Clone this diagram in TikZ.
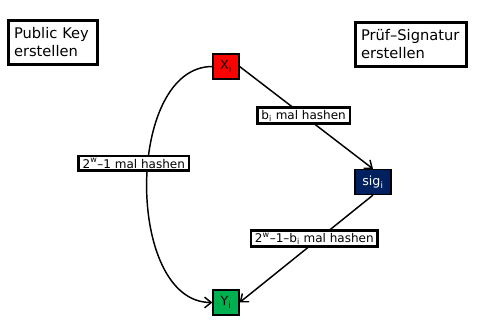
\documentclass[tikz,border=0pt]{standalone}
\usepackage{fontspec}
\setmainfont{DejaVu Sans}
\usetikzlibrary{arrows.meta}
\tikzset{>={Straight Barb[width=8pt,length=5pt]}}
\definecolor{keyred}{HTML}{FF0000}
\definecolor{signavy}{HTML}{002060}
\definecolor{pubgreen}{HTML}{00B050}
\tikzset{
  titlebox/.style={draw, line width=1.9pt, fill=white, align=left, anchor=north west,
    font=\fontsize{11}{13.5}\selectfont, inner xsep=4.3pt, minimum height=33pt},
  chainbox/.style={draw, line width=0.9pt, minimum width=19.5pt, minimum height=18.75pt,
    inner sep=1pt, font=\fontsize{9.5}{10}\selectfont},
  hashlabel/.style={draw, line width=1.9pt, fill=white, font=\fontsize{9}{10}\selectfont,
    inner xsep=3pt, inner ysep=1.8pt},
  chain/.style={->, line width=1.1pt}
}

\begin{document}
\begin{tikzpicture}[x=0.75pt,y=-0.75pt]
\useasboundingbox (0,0) rectangle (483,320);

%% headings
\node[titlebox, text width=58.5pt] (pubkey) at (7,19) {Public Key\\erstellen};
\node[titlebox, text width=75pt] (pruefsig) at (354,21) {Prüf–Signatur\\erstellen};

%% chain elements
\node[chainbox, fill=keyred] (xi) at (226,66.5) {X\textsubscript{i}};
\node[chainbox, fill=signavy, text=white, minimum width=27pt] (sig) at (373,182) {sig\textsubscript{i}};
\node[chainbox, fill=pubgreen] (yi) at (226,302.5) {Y\textsubscript{i}};

%% hash chains
\draw[chain] (xi.west) to[out=180, in=180, looseness=0.95]
  node[hashlabel, pos=0.44, xshift=-10.5pt] (fullhash) {2\textsuperscript{w}–1 mal hashen} (yi.west);
\draw[chain] (xi.east) --
  node[hashlabel, pos=0.48] (signhash) {b\textsubscript{i} mal hashen} (sig.north);
\draw[chain] (sig.south) --
  node[hashlabel, pos=0.44, yshift=3pt] (verhash) {2\textsuperscript{w}–1–b\textsubscript{i} mal hashen} (yi.east);

\end{tikzpicture}
\end{document}
